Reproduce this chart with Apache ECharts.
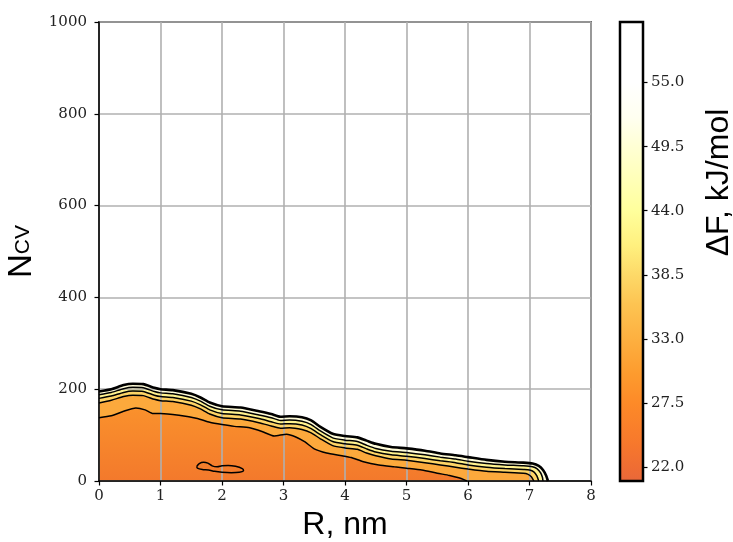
<!DOCTYPE html>
<html>
<head>
<meta charset="utf-8">
<script src="https://cdn.jsdelivr.net/npm/echarts@6/dist/echarts.min.js"></script>
<style>
  html, body { margin: 0; padding: 0; background: #fff; }
  #chart { width: 733px; height: 542px; }
</style>
</head>
<body>
<div id="chart"></div>
<script>
// contour lines of the free energy surface, points are [R (nm), N_CV]
// outer edge of the sampled region
const edgeLine = [[0,195],[0.2,200],[0.4,209],[0.55,212],[0.72,211],[0.9,203],[1.0,200],[1.2,198],[1.5,190],[1.65,182],[1.8,171],[2.0,163],[2.3,160],[2.6,152],[2.8,146],[2.95,140],[3.1,141],[3.3,139],[3.45,132],[3.6,118],[3.8,103],[4.0,98],[4.2,95],[4.35,88],[4.5,81],[4.75,74],[5.0,71],[5.3,66],[5.55,60],[5.8,56],[6.0,52],[6.3,46],[6.6,42],[6.9,40],[7.05,38],[7.15,33],[7.22,24],[7.27,12],[7.3,0]];
const level4 = [[0,188],[0.2,193],[0.4,201],[0.55,204],[0.72,203],[0.9,195],[1.0,192],[1.2,190],[1.5,182],[1.65,174],[1.8,163],[2.0,155],[2.3,152],[2.6,144],[2.8,138],[2.95,132],[3.1,133],[3.3,130],[3.45,123],[3.6,109],[3.8,94],[4.0,89],[4.2,86],[4.35,78],[4.5,71],[4.75,65],[5.0,62],[5.3,57],[5.55,52],[5.8,48],[6.0,43],[6.3,38],[6.6,35],[6.9,33],[7.05,31],[7.12,27],[7.18,18],[7.21,8],[7.22,0]];
const level3 = [[0,180],[0.2,185],[0.4,193],[0.55,196],[0.72,195],[0.9,187],[1.0,184],[1.2,182],[1.5,174],[1.65,166],[1.8,155],[2.0,147],[2.3,144],[2.6,136],[2.8,129],[2.95,124],[3.1,125],[3.3,122],[3.45,114],[3.6,101],[3.8,86],[4.0,81],[4.2,78],[4.35,70],[4.5,63],[4.75,57],[5.0,54],[5.3,49],[5.55,44],[5.8,40],[6.0,35],[6.3,30],[6.6,27],[6.9,25],[7.0,24],[7.07,20],[7.12,11],[7.15,0]];
const level2 = [[0,170],[0.2,176],[0.4,184],[0.55,187],[0.72,186],[0.9,178],[1.0,175],[1.2,173],[1.5,165],[1.65,157],[1.8,146],[2.0,138],[2.3,135],[2.6,127],[2.8,120],[2.95,115],[3.1,116],[3.3,112],[3.45,105],[3.6,92],[3.8,77],[4.0,72],[4.2,69],[4.35,61],[4.5,55],[4.75,48],[5.0,45],[5.3,40],[5.55,35],[5.8,30],[6.0,26],[6.3,21],[6.6,19],[6.9,17],[6.97,15],[7.03,9],[7.07,0]];
const level1 = [[0,138],[0.2,142],[0.4,152],[0.6,159],[0.75,155],[0.88,147],[1.0,147],[1.3,143],[1.6,136],[1.8,128],[2.0,123],[2.2,119],[2.45,116],[2.65,108],[2.85,98],[3.05,102],[3.2,96],[3.35,85],[3.5,70],[3.7,61],[3.95,55],[4.1,51],[4.3,42],[4.55,35],[4.8,31],[5.0,28],[5.25,24],[5.5,17],[5.7,12],[5.85,7],[5.95,2],[5.98,0]];
// small closed contour near the minimum
const pocketLoop = [[1.59,32],[1.63,38],[1.7,41],[1.77,39],[1.84,33],[1.92,31],[2.0,33],[2.1,34],[2.22,32],[2.33,27],[2.35,23],[2.28,19],[2.15,18],[2.0,19],[1.88,21],[1.78,24],[1.68,25],[1.6,28],[1.59,32]];

// fill colour under each line, outer to inner
const bandColors = ['#fffcd8', '#fff28e', '#fed466', '#fca93c'];
const innerTop = '#fa912c';
const innerBottom = '#f3792c';

// colour bar
const cbMin = 20.8;
const cbMax = 60.2;
const cbTicks = [22.0, 27.5, 33.0, 38.5, 44.0, 49.5, 55.0];
const cbValues = [20.8, 22, 24, 27.5, 30, 33, 36, 38.5, 41, 44, 47, 49.5, 52, 55, 60.2];
const cbColors = ['#e8683a', '#ef6d33', '#f7782c', '#fd8a28', '#fd9b2e', '#fdb040', '#fdc452', '#fdd968', '#fff07e', '#ffff9c', '#ffffbb', '#ffffd4', '#fffff0', '#ffffff', '#ffffff'];

const chart = echarts.init(document.getElementById('chart'), null, { renderer: 'canvas' });

const serif = 'DejaVu Serif';
const sans = 'Liberation Sans';

const lines = [edgeLine, level4, level3, level2, level1];
const areaSeries = lines.map((d, i) => ({
  type: 'line',
  data: d,
  smooth: 0.2,
  symbol: 'none',
  silent: true,
  z: 2,
  lineStyle: { width: 0 },
  areaStyle: {
    opacity: 1,
    color: i < bandColors.length ? bandColors[i]
      : new echarts.graphic.LinearGradient(0, 0, 0, 1, [
          { offset: 0, color: innerTop },
          { offset: 1, color: innerBottom }
        ])
  }
}));

const lineSeries = lines.map((d, i) => ({
  type: 'line',
  data: d,
  smooth: 0.2,
  symbol: 'none',
  silent: true,
  z: 4,
  lineStyle: { color: '#000', width: i === 0 ? 2.6 : 1.5 }
}));

lineSeries.push({
  type: 'line',
  data: pocketLoop,
  smooth: 0.3,
  symbol: 'none',
  silent: true,
  z: 4,
  lineStyle: { color: '#000', width: 1.5 }
});

const cbGradient = new echarts.graphic.LinearGradient(0, 1, 0, 0,
  cbValues.map((v, i) => ({ offset: (v - cbMin) / (cbMax - cbMin), color: cbColors[i] })));

chart.setOption({
  animation: false,
  backgroundColor: '#fff',
  grid: [
    { left: 99, top: 22, width: 492, height: 459, show: true, borderColor: '#000', borderWidth: 1.5, backgroundColor: 'transparent', containLabel: false, outerBoundsMode: 'none' },
    { left: 620, top: 22, width: 23, height: 459, show: true, borderColor: '#000', borderWidth: 2.5, backgroundColor: 'transparent', containLabel: false, outerBoundsMode: 'none', z: 5 }
  ],
  xAxis: [
    {
      gridIndex: 0, type: 'value', min: 0, max: 8, interval: 1, z: 3,
      name: 'R, nm', nameLocation: 'middle', nameGap: 25,
      nameTextStyle: { fontFamily: sans, fontSize: 32, color: '#000' },
      axisLine: { lineStyle: { color: '#000', width: 1.5 } },
      axisTick: { inside: false, length: 4.5, lineStyle: { color: '#000', width: 1.2 } },
      axisLabel: { fontFamily: serif, fontSize: 15, color: '#222', margin: 8 },
      splitLine: { show: true, lineStyle: { color: '#b0b0b0', width: 1.6 } }
    },
    {
      gridIndex: 1, type: 'category', data: ['cb'], show: false
    }
  ],
  yAxis: [
    {
      gridIndex: 0, type: 'value', min: 0, max: 1000, interval: 200, z: 3,
      name: '{n|N}{s|CV}', nameLocation: 'middle', nameGap: 56, nameRotate: 90,
      nameTextStyle: {
        color: '#000',
        rich: {
          n: { fontFamily: sans, fontSize: 33, color: '#000', padding: [0, 0, 4, 0] },
          s: { fontFamily: sans, fontSize: 21, color: '#000' }
        }
      },
      axisLine: { lineStyle: { color: '#000', width: 1.5 } },
      axisTick: { inside: false, length: 4.5, lineStyle: { color: '#000', width: 1.2 } },
      axisLabel: { fontFamily: serif, fontSize: 15, color: '#222', margin: 12, formatter: (v) => String(v) },
      splitLine: { show: true, lineStyle: { color: '#b0b0b0', width: 1.6 } }
    },
    {
      gridIndex: 1, type: 'value', min: cbMin, max: cbMax, position: 'right', z: 6,
      name: 'ΔF, kJ/mol', nameLocation: 'middle', nameGap: 60, nameRotate: 90,
      nameTextStyle: { fontFamily: sans, fontSize: 32, color: '#000', padding: [0, 0, 0, 138] },
      axisLine: { show: false },
      axisTick: { show: true, inside: false, length: 4.5, customValues: cbTicks, lineStyle: { color: '#000', width: 1.2 } },
      axisLabel: { fontFamily: serif, fontSize: 15, color: '#222', margin: 8, customValues: cbTicks, formatter: (v) => v.toFixed(1) },
      splitLine: { show: false }
    }
  ],
  series: [
    ...areaSeries,
    ...lineSeries,
    {
      type: 'bar', xAxisIndex: 1, yAxisIndex: 1, data: [cbMax], barWidth: '100%',
      silent: true, itemStyle: { color: cbGradient }
    }
  ]
});
</script>
</body>
</html>
